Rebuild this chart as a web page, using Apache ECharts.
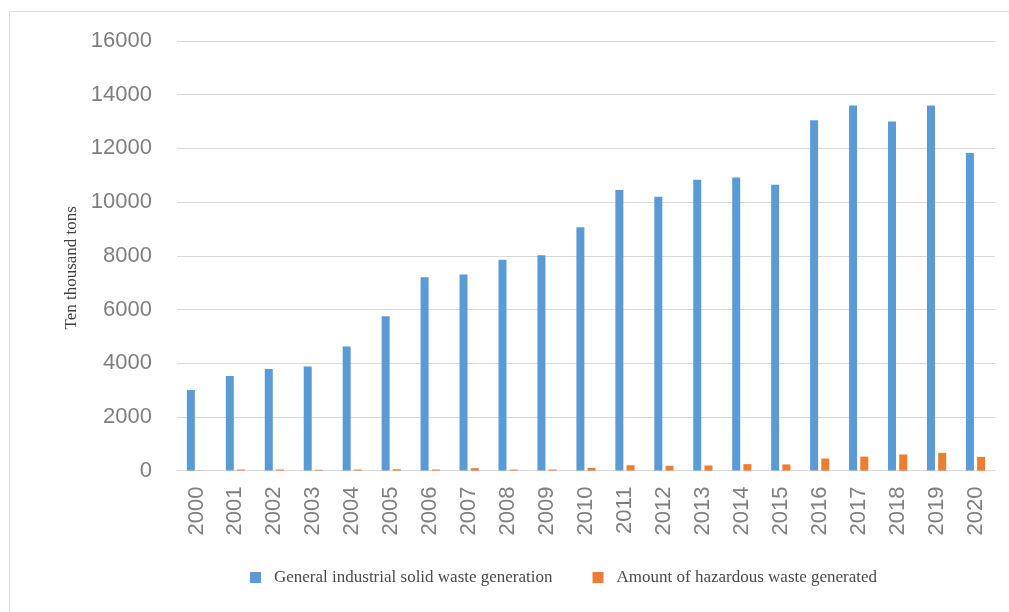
<!DOCTYPE html>
<html>
<head>
<meta charset="utf-8">
<script src="https://cdn.jsdelivr.net/npm/echarts@6/dist/echarts.min.js"></script>
<style>
html,body{margin:0;padding:0;background:#fff;}
#c{width:1009px;height:612px;}
</style>
</head>
<body>
<div id="c"></div>
<script>
const years = ['2000','2001','2002','2003','2004','2005','2006','2007','2008','2009','2010','2011','2012','2013','2014','2015','2016','2017','2018','2019','2020'];
const generalSolidWaste = [3000,3520,3780,3880,4620,5750,7200,7300,7850,8020,9060,10450,10200,10830,10920,10650,13050,13600,13000,13600,11830];
const hazardousWaste = [10,40,40,30,40,50,40,90,40,40,100,200,180,190,240,230,450,520,600,660,510];
const yTicks = [0,2000,4000,6000,8000,10000,12000,14000,16000];

const chart = echarts.init(document.getElementById('c'), null, {renderer:'canvas'});
chart.setOption({
  backgroundColor:'#ffffff',
  animation:false,
  graphic:[{
    type:'rect', left:7, top:9, silent:true,
    shape:{width:1000, height:601},
    style:{fill:'none', stroke:'#dcdcdc', lineWidth:1}
  }],
  grid:{left:177, right:14, top:41, bottom:141.4},
  legend:{
    bottom:21, left:245, itemWidth:11, itemHeight:11, itemGap:40,
    icon:'rect',
    textStyle:{fontFamily:'Liberation Serif', fontSize:17, color:'#4a4a4a', padding:[0,0,0,8]},
    data:['General industrial solid waste generation','Amount of hazardous waste generated']
  },
  xAxis:{
    type:'category', data:years,
    axisLine:{show:true, lineStyle:{color:'#d9d9d9'}},
    axisTick:{show:false},
    axisLabel:{rotate:90, margin:16, fontFamily:'Liberation Sans', fontSize:22, color:'#7f7f7f', interval:0}
  },
  yAxis:{
    type:'value', min:0, max:16000, interval:2000,
    name:'Ten thousand tons', nameLocation:'middle', nameGap:97, nameRotate:90,
    nameTextStyle:{fontFamily:'Liberation Serif', fontSize:17, color:'#404040', padding:[0,24,0,0]},
    axisLine:{show:false}, axisTick:{show:false},
    splitLine:{lineStyle:{color:'#d9d9d9', width:1}},
    axisLabel:{margin:25, fontFamily:'Liberation Sans', fontSize:22, color:'#7f7f7f',
      formatter:function(v){ return yTicks.indexOf(v)>=0 ? String(v) : ''; }}
  },
  series:[
    {name:'General industrial solid waste generation', type:'bar', data:generalSolidWaste,
     barWidth:8, barGap:'40%', itemStyle:{color:'#5b9bd5'}},
    {name:'Amount of hazardous waste generated', type:'bar', data:hazardousWaste,
     barWidth:8, barGap:'40%', itemStyle:{color:'#ed7d31'}}
  ]
});
</script>
</body>
</html>
